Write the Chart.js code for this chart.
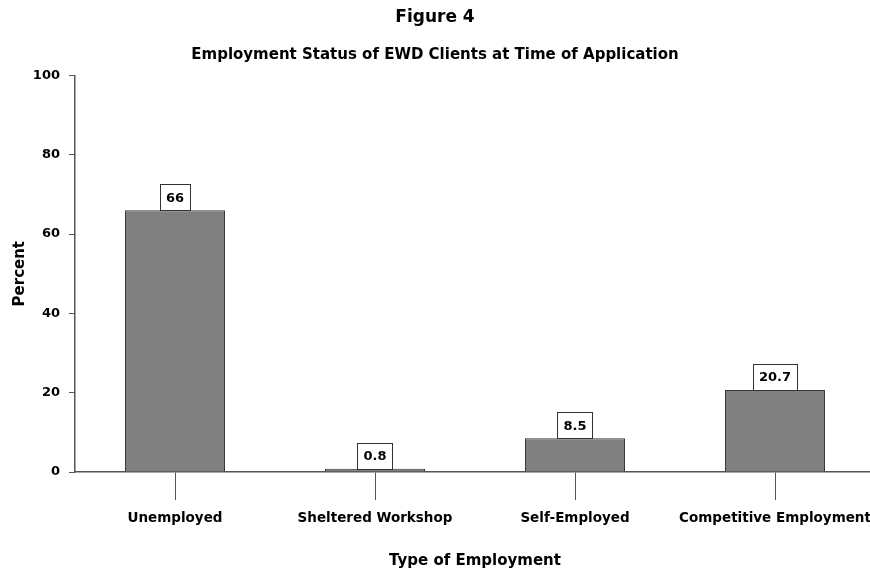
<!DOCTYPE html>
<html>
<head>
<meta charset="utf-8">
<script src="https://cdn.jsdelivr.net/npm/chart.js@4/dist/chart.umd.min.js"></script>
<style>
  html, body { margin: 0; padding: 0; background: #ffffff; overflow: hidden; width: 870px; height: 573px; }
  #wrap { position: absolute; left: -5px; top: 0; width: 880px; height: 573px; }
</style>
</head>
<body>
<div id="wrap"><canvas id="c"></canvas></div>
<script>
const categories = ["Unemployed", "Sheltered Workshop", "Self-Employed", "Competitive Employment"];
const percentValues = [66, 0.8, 8.5, 20.7];
const valueLabels = ["66", "0.8", "8.5", "20.7"];
const yTicks = [0, 20, 40, 60, 80, 100];

const FONT = "'DejaVu Sans', 'Liberation Sans', Arial, sans-serif";

const boxLabels = {
  id: 'boxLabels',
  afterDatasetsDraw(chart) {
    const ctx = chart.ctx;
    const meta = chart.getDatasetMeta(0);
    ctx.save();
    ctx.font = "bold 13px " + FONT;
    ctx.textAlign = 'center';
    ctx.textBaseline = 'middle';
    meta.data.forEach((bar, i) => {
      const txt = valueLabels[i];
      const w = ctx.measureText(txt).width + 12;
      const h = 26;
      const x = bar.x - w / 2;
      const y = bar.y - h;
      ctx.fillStyle = '#ffffff';
      ctx.fillRect(x, y, w, h);
      ctx.strokeStyle = '#333333';
      ctx.lineWidth = 1;
      ctx.strokeRect(Math.round(x) + 0.5, Math.round(y) + 0.5, Math.round(w), Math.round(h));
      ctx.fillStyle = '#000000';
      ctx.fillText(txt, bar.x, bar.y - h / 2 + 1);
    });
    ctx.restore();
  }
};

new Chart(document.getElementById('c'), {
  type: 'bar',
  data: {
    labels: categories,
    datasets: [{
      data: percentValues,
      backgroundColor: '#808080',
      borderColor: '#3a3a3a',
      borderWidth: 1,
      barPercentage: 0.5,
      categoryPercentage: 1.0
    }]
  },
  options: {
    responsive: true,
    maintainAspectRatio: false,
    animation: false,
    layout: { padding: { left: 0, right: 0, top: 0, bottom: 0 } },
    plugins: {
      legend: { display: false },
      tooltip: { enabled: false },
      title: {
        display: true,
        text: 'Figure 4',
        color: '#000',
        font: { family: FONT, size: 17, weight: 'bold' },
        padding: { top: 7, bottom: 19 }
      },
      subtitle: {
        display: true,
        text: 'Employment Status of EWD Clients at Time of Application',
        color: '#000',
        font: { family: FONT, size: 15, weight: 'bold' },
        padding: { top: 0, bottom: 11 }
      }
    },
    scales: {
      x: {
        afterFit(scale) { scale.height = 101; scale.paddingLeft = 0; scale.paddingRight = 0; },
        grid: {
          display: true,
          drawOnChartArea: false,
          drawTicks: true,
          tickLength: 28,
          offset: false,
          color: '#555555',
          lineWidth: 1
        },
        border: { display: true, color: '#555555', width: 1.5 },
        ticks: {
          color: '#000',
          font: { family: FONT, size: 13.5, weight: 'bold' },
          padding: 10,
          maxRotation: 0,
          autoSkip: false
        },
        title: {
          display: true,
          text: 'Type of Employment',
          color: '#000',
          font: { family: FONT, size: 15, weight: 'bold' },
          padding: { top: 0, bottom: 3 }
        }
      },
      y: {
        min: 0,
        max: 100,
        afterFit(scale) { scale.width = 80; },
        afterBuildTicks(scale) { scale.ticks = yTicks.map(v => ({ value: v })); },
        grid: {
          display: true,
          drawOnChartArea: false,
          drawTicks: true,
          tickLength: 6,
          color: '#555555',
          lineWidth: 1
        },
        border: { display: true, color: '#555555', width: 1.5 },
        ticks: {
          color: '#000',
          font: { family: FONT, size: 13, weight: 'bold' },
          padding: 9
        },
        title: {
          display: true,
          text: 'Percent',
          color: '#000',
          font: { family: FONT, size: 15, weight: 'bold' },
          padding: { top: 16, bottom: 0 }
        }
      }
    }
  },
  plugins: [boxLabels]
});
</script>
</body>
</html>
